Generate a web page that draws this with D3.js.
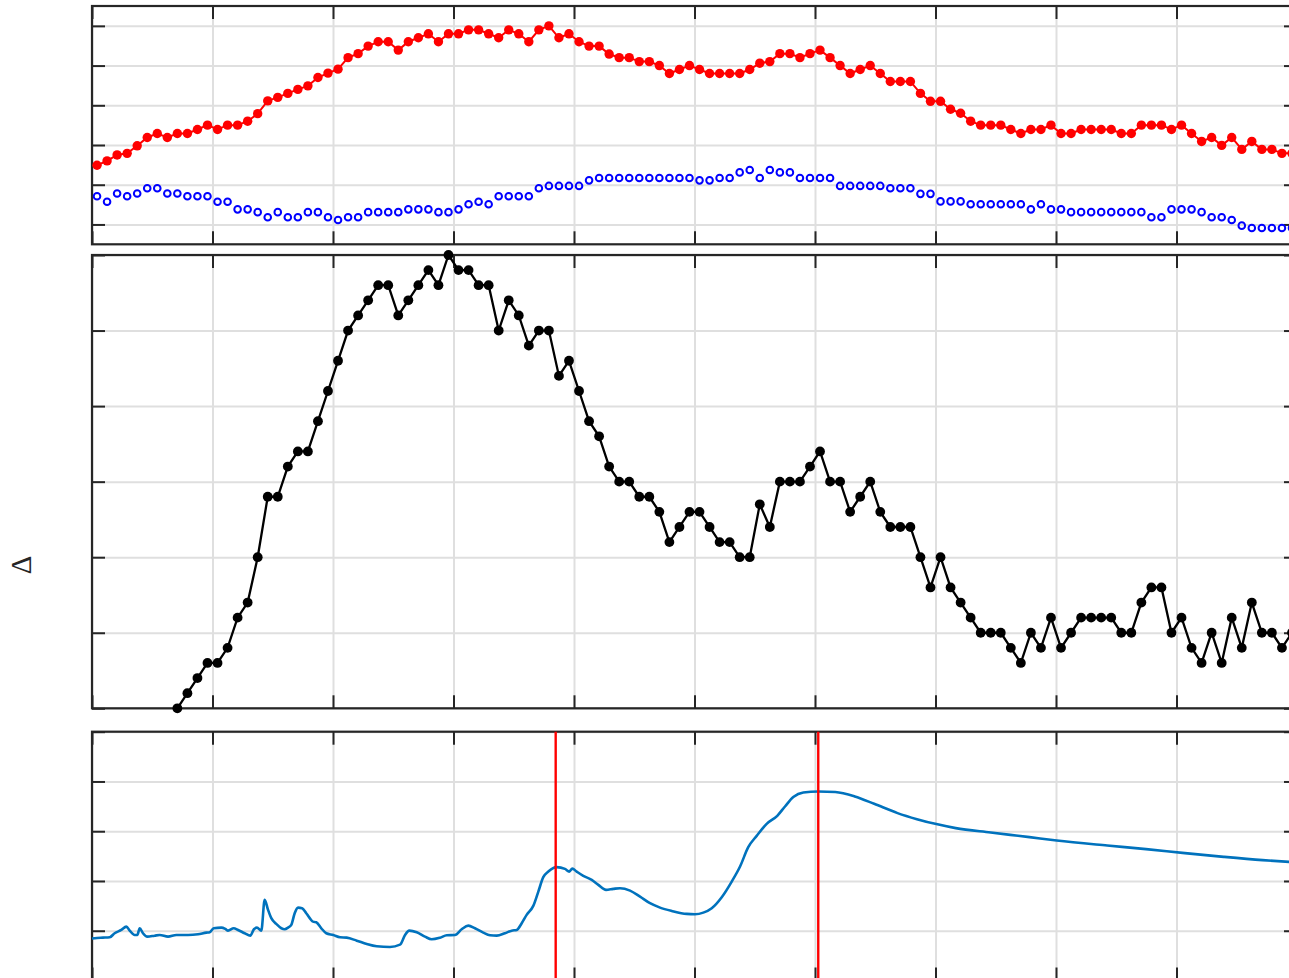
<!DOCTYPE html>
<html>
<head>
<meta charset="utf-8">
<script src="https://cdn.jsdelivr.net/npm/d3@7/dist/d3.min.js"></script>
<style>
  html, body { margin: 0; padding: 0; background: #ffffff; }
  svg { display: block; }
</style>
</head>
<body>
<svg id="fig" width="1289" height="978"></svg>
<script>
// ---------------- DATA ----------------
const startYear = 2010;
const yearTicks = [2010, 2011, 2012, 2013, 2014, 2015, 2016, 2017, 2018, 2019, 2020];

// Panel 1 (monthly values)
const redSeries = [
  1.49,1.60,1.75,1.79,1.98,2.19,2.29,2.19,2.29,2.29,2.39,2.50,
  2.39,2.50,2.50,2.60,2.79,3.11,3.20,3.30,3.40,3.49,3.70,3.81,
  3.91,4.20,4.30,4.49,4.60,4.60,4.39,4.60,4.70,4.80,4.60,4.80,
  4.80,4.90,4.90,4.80,4.70,4.90,4.80,4.60,4.90,5.00,4.70,4.80,
  4.60,4.49,4.49,4.29,4.20,4.20,4.10,4.10,4.00,3.80,3.90,4.00,
  3.90,3.80,3.80,3.80,3.80,3.90,4.06,4.10,4.30,4.30,4.20,4.30,
  4.39,4.20,4.00,3.80,3.90,4.00,3.80,3.60,3.60,3.60,3.30,3.10,
  3.10,2.90,2.80,2.60,2.50,2.50,2.50,2.39,2.29,2.39,2.39,2.50,
  2.29,2.29,2.39,2.39,2.39,2.39,2.29,2.29,2.50,2.50,2.50,2.39,
  2.50,2.29,2.09,2.19,1.99,2.19,1.89,2.09,1.89,1.89,1.79,1.79
];
const blueSeries = [
  0.71,0.57,0.78,0.71,0.78,0.91,0.91,0.78,0.78,0.71,0.71,0.71,
  0.57,0.57,0.38,0.38,0.31,0.18,0.31,0.18,0.18,0.31,0.31,0.18,
  0.11,0.18,0.18,0.31,0.31,0.31,0.31,0.38,0.38,0.38,0.31,0.31,
  0.38,0.51,0.57,0.51,0.71,0.71,0.71,0.71,0.91,0.97,0.97,0.97,
  0.97,1.11,1.17,1.17,1.17,1.17,1.17,1.17,1.17,1.17,1.17,1.17,
  1.11,1.11,1.17,1.17,1.31,1.37,1.17,1.37,1.31,1.31,1.17,1.17,
  1.17,1.17,0.97,0.97,0.97,0.97,0.97,0.91,0.91,0.91,0.77,0.77,
  0.58,0.58,0.58,0.51,0.51,0.51,0.51,0.51,0.51,0.38,0.51,0.38,
  0.38,0.31,0.31,0.31,0.31,0.31,0.31,0.31,0.31,0.18,0.18,0.38,
  0.38,0.38,0.31,0.18,0.18,0.11,-0.03,-0.09,-0.09,-0.09,-0.09,-0.09
];

// Panel 2 (monthly values, first 8 months missing)
const blackSeries = [
  null,null,null,null,null,null,null,null,0.0,0.2,0.4,0.6,
  0.6,0.8,1.2,1.4,2.0,2.8,2.8,3.2,3.4,3.4,3.8,4.2,
  4.6,5.0,5.2,5.4,5.6,5.6,5.2,5.4,5.6,5.8,5.6,6.0,
  5.8,5.8,5.6,5.6,5.0,5.4,5.2,4.8,5.0,5.0,4.4,4.6,
  4.2,3.8,3.6,3.2,3.0,3.0,2.8,2.8,2.6,2.2,2.4,2.6,
  2.6,2.4,2.2,2.2,2.0,2.0,2.7,2.4,3.0,3.0,3.0,3.2,
  3.4,3.0,3.0,2.6,2.8,3.0,2.6,2.4,2.4,2.4,2.0,1.6,
  2.0,1.6,1.4,1.2,1.0,1.0,1.0,0.8,0.6,1.0,0.8,1.2,
  0.8,1.0,1.2,1.2,1.2,1.2,1.0,1.0,1.4,1.6,1.6,1.0,
  1.2,0.8,0.6,1.0,0.6,1.2,0.8,1.4,1.0,1.0,0.8,1.0
];

// Panel 3 (continuous line)
const lineYears = [
  2010.000,2010.041,2010.091,2010.147,2010.188,2010.243,2010.285,2010.313,2010.354,2010.376,
  2010.396,2010.423,2010.459,2010.520,2010.562,2010.631,2010.700,2010.797,2010.880,2010.949,
  2010.977,2011.010,2011.073,2011.106,2011.129,2011.176,2011.212,2011.267,2011.314,2011.344,
  2011.369,2011.405,2011.433,2011.461,2011.488,2011.529,2011.571,2011.599,2011.627,2011.654,
  2011.682,2011.710,2011.743,2011.778,2011.834,2011.861,2011.903,2011.944,2012.002,2012.058,
  2012.114,2012.197,2012.280,2012.363,2012.473,2012.556,2012.598,2012.633,2012.695,2012.763,
  2012.819,2012.888,2012.944,2013.012,2013.068,2013.123,2013.178,2013.247,2013.303,2013.359,
  2013.427,2013.483,2013.525,2013.566,2013.607,2013.662,2013.704,2013.745,2013.787,2013.856,
  2013.925,2013.961,2013.986,2014.022,2014.077,2014.147,2014.202,2014.266,2014.326,2014.382,
  2014.465,2014.548,2014.631,2014.714,2014.811,2014.935,2015.004,2015.073,2015.143,2015.226,
  2015.309,2015.378,2015.446,2015.516,2015.599,2015.687,2015.751,2015.820,2015.903,2016.027,
  2016.168,2016.330,2016.491,2016.685,2016.846,2017.007,2017.168,2017.458,2017.780,2018.006,
  2018.425,2018.747,2019.070,2019.392,2019.714,2020.000
];
const lineValues = [
  0.845,0.855,0.861,0.869,0.950,1.016,1.082,1.002,0.915,0.915,
  1.050,0.950,0.881,0.901,0.915,0.881,0.915,0.915,0.930,0.962,
  0.970,1.050,1.062,1.036,1.002,1.050,1.016,0.950,0.901,1.030,
  1.062,1.002,1.620,1.419,1.252,1.137,1.050,1.030,1.062,1.117,
  1.352,1.465,1.453,1.352,1.183,1.171,1.050,0.950,0.915,0.869,
  0.861,0.801,0.734,0.688,0.674,0.720,0.915,1.002,0.970,0.881,
  0.829,0.861,0.909,0.915,1.030,1.103,1.050,0.962,0.909,0.901,
  0.950,1.002,1.016,1.151,1.318,1.499,1.787,2.076,2.189,2.278,
  2.243,2.189,2.249,2.189,2.103,2.022,1.922,1.821,1.841,1.855,
  1.807,1.686,1.553,1.465,1.398,1.338,1.332,1.364,1.453,1.674,
  1.988,2.290,2.680,2.907,3.149,3.310,3.497,3.686,3.779,3.799,
  3.787,3.698,3.551,3.364,3.243,3.143,3.062,2.974,2.881,2.813,
  2.712,2.640,2.559,2.485,2.419,2.374
];
const eventYears = [2013.848, 2016.027];

const panel1Ticks = [0, 1, 2, 3, 4, 5];
const panel2Ticks = [0, 1, 2, 3, 4, 5, 6];
const panel3Ticks = [0, 1, 2, 3, 4, 5];
const yLabel = "Δ";

// ---------------- LAYOUT ----------------
const svg = d3.select("#fig");
const LEFT = 92, RIGHT = 1297;
const AXC = "#262626", GRIDC = "#dfdfdf";
const TICK = 13;

const x = d3.scaleLinear().domain([startYear, startYear + 10]).range([LEFT, RIGHT]);
const monthX = i => startYear + (i + 0.5) / 12;

const panels = [
  { top: 6,     bottom: 244.3, domain: [-0.5, 5.5], ticks: panel1Ticks },
  { top: 255,   bottom: 708.3, domain: [0, 6],      ticks: panel2Ticks },
  { top: 731.7, bottom: 980.5, domain: [0, 5],      ticks: panel3Ticks }
];
panels.forEach(p => { p.y = d3.scaleLinear().domain(p.domain).range([p.bottom, p.top]); });

const gridLayer = svg.append("g");
const frameLayer = svg.append("g");
const dataLayer = svg.append("g");

function styleAxis(sel, color, width) {
  sel.select(".domain").remove();
  sel.selectAll(".tick text").remove();
  sel.selectAll(".tick line").attr("stroke", color).attr("stroke-width", width);
}

panels.forEach(p => {
  const h = p.bottom - p.top, w = RIGHT - LEFT;
  // grid
  gridLayer.append("g").attr("transform", `translate(0,${p.bottom})`)
    .call(d3.axisBottom(x).tickValues(yearTicks).tickSize(-h).tickFormat(""))
    .call(s => styleAxis(s, GRIDC, 2));
  gridLayer.append("g").attr("transform", `translate(${LEFT},0)`)
    .call(d3.axisLeft(p.y).tickValues(p.ticks).tickSize(-w).tickFormat(""))
    .call(s => styleAxis(s, GRIDC, 2));
  // inward ticks on all four sides
  frameLayer.append("g").attr("transform", `translate(0,${p.bottom})`)
    .call(d3.axisBottom(x).tickValues(yearTicks).tickSizeInner(-TICK).tickSizeOuter(0).tickFormat(""))
    .call(s => styleAxis(s, AXC, 2));
  frameLayer.append("g").attr("transform", `translate(0,${p.top})`)
    .call(d3.axisTop(x).tickValues(yearTicks).tickSizeInner(-TICK).tickSizeOuter(0).tickFormat(""))
    .call(s => styleAxis(s, AXC, 2));
  frameLayer.append("g").attr("transform", `translate(${LEFT},0)`)
    .call(d3.axisLeft(p.y).tickValues(p.ticks).tickSizeInner(-TICK).tickSizeOuter(0).tickFormat(""))
    .call(s => styleAxis(s, AXC, 2));
  frameLayer.append("g").attr("transform", `translate(${RIGHT},0)`)
    .call(d3.axisRight(p.y).tickValues(p.ticks).tickSizeInner(-TICK).tickSizeOuter(0).tickFormat(""))
    .call(s => styleAxis(s, AXC, 2));
  frameLayer.append("rect")
    .attr("x", LEFT).attr("y", p.top).attr("width", w).attr("height", h)
    .attr("fill", "none").attr("stroke", AXC).attr("stroke-width", 2.2);
});

// ---------------- PANEL 1 ----------------
const p1 = panels[0];
const redPts = redSeries.map((v, i) => [monthX(i), v]);
dataLayer.append("path")
  .attr("d", d3.line().x(d => x(d[0])).y(d => p1.y(d[1]))(redPts))
  .attr("fill", "none").attr("stroke", "#ff0000").attr("stroke-width", 2);
dataLayer.append("g").selectAll("circle").data(redPts).join("circle")
  .attr("cx", d => x(d[0])).attr("cy", d => p1.y(d[1])).attr("r", 4.7)
  .attr("fill", "#ff0000");

const bluePts = blueSeries.map((v, i) => [monthX(i), v]);
dataLayer.append("g").selectAll("circle").data(bluePts).join("circle")
  .attr("cx", d => x(d[0])).attr("cy", d => p1.y(d[1])).attr("r", 3.3)
  .attr("fill", "none").attr("stroke", "#0000ff").attr("stroke-width", 2);

// ---------------- PANEL 2 ----------------
const p2 = panels[1];
const blackPts = blackSeries.map((v, i) => [monthX(i), v]);
dataLayer.append("path")
  .attr("d", d3.line().defined(d => d[1] !== null).x(d => x(d[0])).y(d => p2.y(d[1]))(blackPts))
  .attr("fill", "none").attr("stroke", "#000000").attr("stroke-width", 2.3);
dataLayer.append("g").selectAll("circle").data(blackPts.filter(d => d[1] !== null)).join("circle")
  .attr("cx", d => x(d[0])).attr("cy", d => p2.y(d[1])).attr("r", 4.9)
  .attr("fill", "#000000");

// ---------------- PANEL 3 ----------------
const p3 = panels[2];
const linePts = d3.zip(lineYears, lineValues);
dataLayer.append("path")
  .attr("d", d3.line().curve(d3.curveMonotoneX).x(d => x(d[0])).y(d => p3.y(d[1]))(linePts))
  .attr("fill", "none").attr("stroke", "#0072bd").attr("stroke-width", 2.6)
  .attr("stroke-linejoin", "round");
dataLayer.append("g").selectAll("line").data(eventYears).join("line")
  .attr("x1", d => x(d)).attr("x2", d => x(d))
  .attr("y1", p3.top).attr("y2", p3.bottom)
  .attr("stroke", "#ff0000").attr("stroke-width", 2.4);

// ---------------- Y LABEL ----------------
svg.append("text")
  .attr("transform", `translate(31,565) rotate(-90)`)
  .attr("text-anchor", "middle")
  .attr("font-family", "'Liberation Serif', 'DejaVu Serif', serif")
  .attr("font-size", 29)
  .attr("fill", "#262626")
  .text(yLabel);
</script>
</body>
</html>
